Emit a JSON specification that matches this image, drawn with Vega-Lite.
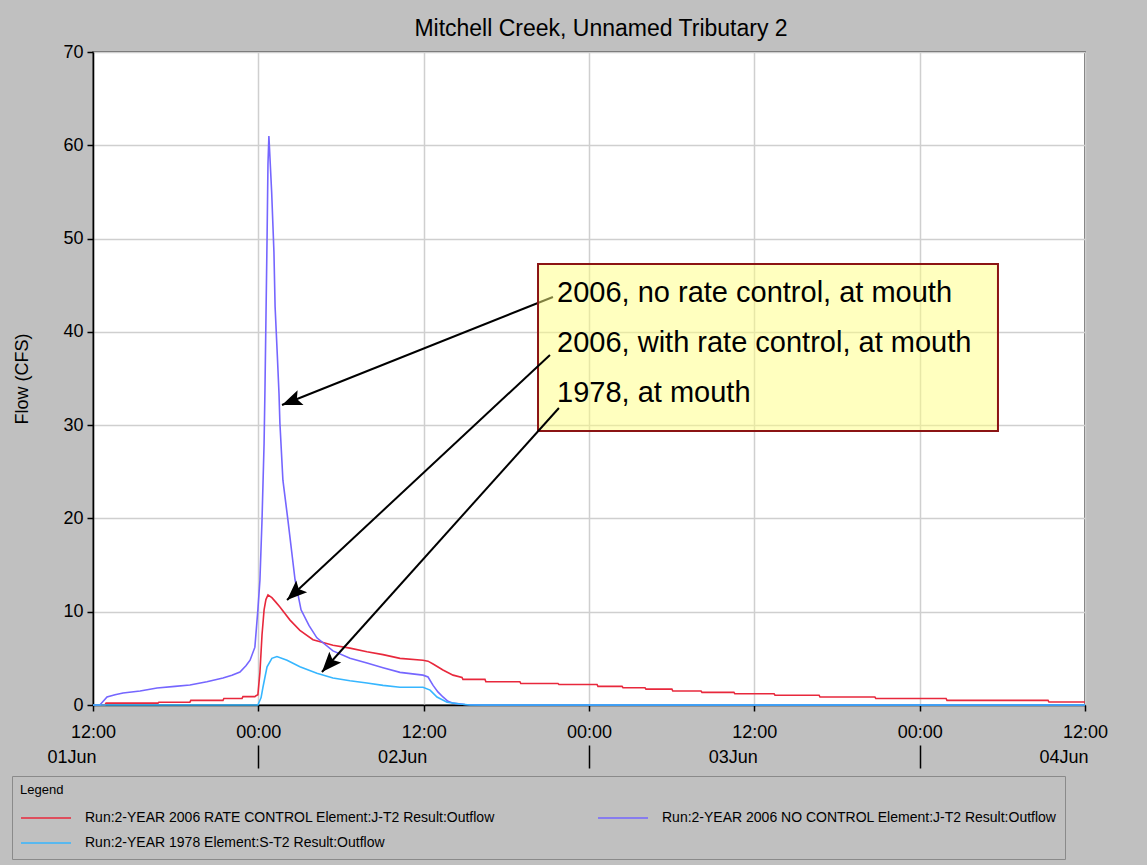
{
  "$schema": "https://vega.github.io/schema/vega-lite/v6.json",
  "width": 992,
  "height": 653,
  "autosize": {"type": "none"},
  "padding": {"left": 93, "top": 52, "right": 62, "bottom": 160},
  "background": "#c0c0c0",
  "config": {
    "font": "Liberation Sans",
    "view": {"fill": "#ffffff", "stroke": "#404040", "strokeWidth": 1.5},
    "axis": {
      "labelFont": "Liberation Sans",
      "labelColor": "#000000",
      "titleFont": "Liberation Sans",
      "titleColor": "#000000",
      "titleFontWeight": "normal",
      "domainColor": "#000000",
      "tickColor": "#000000",
      "gridColor": "#cfcfcf",
      "gridWidth": 1.5
    }
  },
  "title": {
    "text": "Mitchell Creek, Unnamed Tributary 2",
    "font": "Liberation Sans",
    "fontSize": 23,
    "fontWeight": "normal",
    "color": "#000000",
    "anchor": "middle",
    "offset": 2,
    "dx": 12
  },
  "datasets": {
    "series": [
      {"s": "Run:2-YEAR 2006 RATE CONTROL Element:J-T2 Result:Outflow", "t": "2006-06-01T12:00", "v": 0},
      {"s": "Run:2-YEAR 2006 RATE CONTROL Element:J-T2 Result:Outflow", "t": "2006-06-01T12:52", "v": 0},
      {"s": "Run:2-YEAR 2006 RATE CONTROL Element:J-T2 Result:Outflow", "t": "2006-06-01T12:57", "v": 0.2},
      {"s": "Run:2-YEAR 2006 RATE CONTROL Element:J-T2 Result:Outflow", "t": "2006-06-01T16:43", "v": 0.2},
      {"s": "Run:2-YEAR 2006 RATE CONTROL Element:J-T2 Result:Outflow", "t": "2006-06-01T16:47", "v": 0.3},
      {"s": "Run:2-YEAR 2006 RATE CONTROL Element:J-T2 Result:Outflow", "t": "2006-06-01T19:02", "v": 0.3},
      {"s": "Run:2-YEAR 2006 RATE CONTROL Element:J-T2 Result:Outflow", "t": "2006-06-01T19:06", "v": 0.5},
      {"s": "Run:2-YEAR 2006 RATE CONTROL Element:J-T2 Result:Outflow", "t": "2006-06-01T21:26", "v": 0.5},
      {"s": "Run:2-YEAR 2006 RATE CONTROL Element:J-T2 Result:Outflow", "t": "2006-06-01T21:30", "v": 0.7},
      {"s": "Run:2-YEAR 2006 RATE CONTROL Element:J-T2 Result:Outflow", "t": "2006-06-01T22:49", "v": 0.7},
      {"s": "Run:2-YEAR 2006 RATE CONTROL Element:J-T2 Result:Outflow", "t": "2006-06-01T22:53", "v": 0.9},
      {"s": "Run:2-YEAR 2006 RATE CONTROL Element:J-T2 Result:Outflow", "t": "2006-06-01T23:45", "v": 0.9},
      {"s": "Run:2-YEAR 2006 RATE CONTROL Element:J-T2 Result:Outflow", "t": "2006-06-01T23:50", "v": 1.0},
      {"s": "Run:2-YEAR 2006 RATE CONTROL Element:J-T2 Result:Outflow", "t": "2006-06-01T23:58", "v": 1.1},
      {"s": "Run:2-YEAR 2006 RATE CONTROL Element:J-T2 Result:Outflow", "t": "2006-06-02T00:07", "v": 3.5},
      {"s": "Run:2-YEAR 2006 RATE CONTROL Element:J-T2 Result:Outflow", "t": "2006-06-02T00:16", "v": 7.5},
      {"s": "Run:2-YEAR 2006 RATE CONTROL Element:J-T2 Result:Outflow", "t": "2006-06-02T00:25", "v": 10.2},
      {"s": "Run:2-YEAR 2006 RATE CONTROL Element:J-T2 Result:Outflow", "t": "2006-06-02T00:33", "v": 11.3},
      {"s": "Run:2-YEAR 2006 RATE CONTROL Element:J-T2 Result:Outflow", "t": "2006-06-02T00:42", "v": 11.8},
      {"s": "Run:2-YEAR 2006 RATE CONTROL Element:J-T2 Result:Outflow", "t": "2006-06-02T00:59", "v": 11.5},
      {"s": "Run:2-YEAR 2006 RATE CONTROL Element:J-T2 Result:Outflow", "t": "2006-06-02T01:17", "v": 11.0},
      {"s": "Run:2-YEAR 2006 RATE CONTROL Element:J-T2 Result:Outflow", "t": "2006-06-02T01:34", "v": 10.5},
      {"s": "Run:2-YEAR 2006 RATE CONTROL Element:J-T2 Result:Outflow", "t": "2006-06-02T02:18", "v": 9.1},
      {"s": "Run:2-YEAR 2006 RATE CONTROL Element:J-T2 Result:Outflow", "t": "2006-06-02T03:01", "v": 8.0},
      {"s": "Run:2-YEAR 2006 RATE CONTROL Element:J-T2 Result:Outflow", "t": "2006-06-02T03:58", "v": 7.0},
      {"s": "Run:2-YEAR 2006 RATE CONTROL Element:J-T2 Result:Outflow", "t": "2006-06-02T05:25", "v": 6.4},
      {"s": "Run:2-YEAR 2006 RATE CONTROL Element:J-T2 Result:Outflow", "t": "2006-06-02T06:39", "v": 6.1},
      {"s": "Run:2-YEAR 2006 RATE CONTROL Element:J-T2 Result:Outflow", "t": "2006-06-02T07:53", "v": 5.7},
      {"s": "Run:2-YEAR 2006 RATE CONTROL Element:J-T2 Result:Outflow", "t": "2006-06-02T09:03", "v": 5.4},
      {"s": "Run:2-YEAR 2006 RATE CONTROL Element:J-T2 Result:Outflow", "t": "2006-06-02T10:17", "v": 5.0},
      {"s": "Run:2-YEAR 2006 RATE CONTROL Element:J-T2 Result:Outflow", "t": "2006-06-02T11:57", "v": 4.8},
      {"s": "Run:2-YEAR 2006 RATE CONTROL Element:J-T2 Result:Outflow", "t": "2006-06-02T12:19", "v": 4.7},
      {"s": "Run:2-YEAR 2006 RATE CONTROL Element:J-T2 Result:Outflow", "t": "2006-06-02T12:41", "v": 4.4},
      {"s": "Run:2-YEAR 2006 RATE CONTROL Element:J-T2 Result:Outflow", "t": "2006-06-02T13:24", "v": 3.75},
      {"s": "Run:2-YEAR 2006 RATE CONTROL Element:J-T2 Result:Outflow", "t": "2006-06-02T14:08", "v": 3.2},
      {"s": "Run:2-YEAR 2006 RATE CONTROL Element:J-T2 Result:Outflow", "t": "2006-06-02T14:47", "v": 2.95},
      {"s": "Run:2-YEAR 2006 RATE CONTROL Element:J-T2 Result:Outflow", "t": "2006-06-02T14:51", "v": 2.75},
      {"s": "Run:2-YEAR 2006 RATE CONTROL Element:J-T2 Result:Outflow", "t": "2006-06-02T16:27", "v": 2.75},
      {"s": "Run:2-YEAR 2006 RATE CONTROL Element:J-T2 Result:Outflow", "t": "2006-06-02T16:31", "v": 2.5},
      {"s": "Run:2-YEAR 2006 RATE CONTROL Element:J-T2 Result:Outflow", "t": "2006-06-02T18:59", "v": 2.5},
      {"s": "Run:2-YEAR 2006 RATE CONTROL Element:J-T2 Result:Outflow", "t": "2006-06-02T19:03", "v": 2.3},
      {"s": "Run:2-YEAR 2006 RATE CONTROL Element:J-T2 Result:Outflow", "t": "2006-06-02T21:45", "v": 2.3},
      {"s": "Run:2-YEAR 2006 RATE CONTROL Element:J-T2 Result:Outflow", "t": "2006-06-02T21:49", "v": 2.2},
      {"s": "Run:2-YEAR 2006 RATE CONTROL Element:J-T2 Result:Outflow", "t": "2006-06-03T00:35", "v": 2.2},
      {"s": "Run:2-YEAR 2006 RATE CONTROL Element:J-T2 Result:Outflow", "t": "2006-06-03T00:39", "v": 2.0},
      {"s": "Run:2-YEAR 2006 RATE CONTROL Element:J-T2 Result:Outflow", "t": "2006-06-03T02:24", "v": 2.0},
      {"s": "Run:2-YEAR 2006 RATE CONTROL Element:J-T2 Result:Outflow", "t": "2006-06-03T02:28", "v": 1.85},
      {"s": "Run:2-YEAR 2006 RATE CONTROL Element:J-T2 Result:Outflow", "t": "2006-06-03T04:04", "v": 1.85},
      {"s": "Run:2-YEAR 2006 RATE CONTROL Element:J-T2 Result:Outflow", "t": "2006-06-03T04:08", "v": 1.7},
      {"s": "Run:2-YEAR 2006 RATE CONTROL Element:J-T2 Result:Outflow", "t": "2006-06-03T06:01", "v": 1.7},
      {"s": "Run:2-YEAR 2006 RATE CONTROL Element:J-T2 Result:Outflow", "t": "2006-06-03T06:05", "v": 1.5},
      {"s": "Run:2-YEAR 2006 RATE CONTROL Element:J-T2 Result:Outflow", "t": "2006-06-03T08:08", "v": 1.5},
      {"s": "Run:2-YEAR 2006 RATE CONTROL Element:J-T2 Result:Outflow", "t": "2006-06-03T08:12", "v": 1.35},
      {"s": "Run:2-YEAR 2006 RATE CONTROL Element:J-T2 Result:Outflow", "t": "2006-06-03T10:31", "v": 1.35},
      {"s": "Run:2-YEAR 2006 RATE CONTROL Element:J-T2 Result:Outflow", "t": "2006-06-03T10:35", "v": 1.2},
      {"s": "Run:2-YEAR 2006 RATE CONTROL Element:J-T2 Result:Outflow", "t": "2006-06-03T13:26", "v": 1.2},
      {"s": "Run:2-YEAR 2006 RATE CONTROL Element:J-T2 Result:Outflow", "t": "2006-06-03T13:30", "v": 1.05},
      {"s": "Run:2-YEAR 2006 RATE CONTROL Element:J-T2 Result:Outflow", "t": "2006-06-03T16:42", "v": 1.05},
      {"s": "Run:2-YEAR 2006 RATE CONTROL Element:J-T2 Result:Outflow", "t": "2006-06-03T16:46", "v": 0.85},
      {"s": "Run:2-YEAR 2006 RATE CONTROL Element:J-T2 Result:Outflow", "t": "2006-06-03T20:45", "v": 0.85},
      {"s": "Run:2-YEAR 2006 RATE CONTROL Element:J-T2 Result:Outflow", "t": "2006-06-03T20:49", "v": 0.7},
      {"s": "Run:2-YEAR 2006 RATE CONTROL Element:J-T2 Result:Outflow", "t": "2006-06-04T01:55", "v": 0.7},
      {"s": "Run:2-YEAR 2006 RATE CONTROL Element:J-T2 Result:Outflow", "t": "2006-06-04T01:59", "v": 0.5},
      {"s": "Run:2-YEAR 2006 RATE CONTROL Element:J-T2 Result:Outflow", "t": "2006-06-04T09:19", "v": 0.5},
      {"s": "Run:2-YEAR 2006 RATE CONTROL Element:J-T2 Result:Outflow", "t": "2006-06-04T09:23", "v": 0.32},
      {"s": "Run:2-YEAR 2006 RATE CONTROL Element:J-T2 Result:Outflow", "t": "2006-06-04T12:00", "v": 0.32},

      {"s": "Run:2-YEAR 2006 NO CONTROL Element:J-T2 Result:Outflow", "t": "2006-06-01T12:00", "v": 0},
      {"s": "Run:2-YEAR 2006 NO CONTROL Element:J-T2 Result:Outflow", "t": "2006-06-01T12:30", "v": 0},
      {"s": "Run:2-YEAR 2006 NO CONTROL Element:J-T2 Result:Outflow", "t": "2006-06-01T13:01", "v": 0.86},
      {"s": "Run:2-YEAR 2006 NO CONTROL Element:J-T2 Result:Outflow", "t": "2006-06-01T13:36", "v": 1.1},
      {"s": "Run:2-YEAR 2006 NO CONTROL Element:J-T2 Result:Outflow", "t": "2006-06-01T14:11", "v": 1.29},
      {"s": "Run:2-YEAR 2006 NO CONTROL Element:J-T2 Result:Outflow", "t": "2006-06-01T15:25", "v": 1.5},
      {"s": "Run:2-YEAR 2006 NO CONTROL Element:J-T2 Result:Outflow", "t": "2006-06-01T16:39", "v": 1.82},
      {"s": "Run:2-YEAR 2006 NO CONTROL Element:J-T2 Result:Outflow", "t": "2006-06-01T17:57", "v": 2.0},
      {"s": "Run:2-YEAR 2006 NO CONTROL Element:J-T2 Result:Outflow", "t": "2006-06-01T19:02", "v": 2.14},
      {"s": "Run:2-YEAR 2006 NO CONTROL Element:J-T2 Result:Outflow", "t": "2006-06-01T20:16", "v": 2.5},
      {"s": "Run:2-YEAR 2006 NO CONTROL Element:J-T2 Result:Outflow", "t": "2006-06-01T21:26", "v": 2.89},
      {"s": "Run:2-YEAR 2006 NO CONTROL Element:J-T2 Result:Outflow", "t": "2006-06-01T22:05", "v": 3.2},
      {"s": "Run:2-YEAR 2006 NO CONTROL Element:J-T2 Result:Outflow", "t": "2006-06-01T22:40", "v": 3.54},
      {"s": "Run:2-YEAR 2006 NO CONTROL Element:J-T2 Result:Outflow", "t": "2006-06-01T23:06", "v": 4.2},
      {"s": "Run:2-YEAR 2006 NO CONTROL Element:J-T2 Result:Outflow", "t": "2006-06-01T23:24", "v": 4.8},
      {"s": "Run:2-YEAR 2006 NO CONTROL Element:J-T2 Result:Outflow", "t": "2006-06-01T23:45", "v": 6.2},
      {"s": "Run:2-YEAR 2006 NO CONTROL Element:J-T2 Result:Outflow", "t": "2006-06-01T23:58", "v": 10.2},
      {"s": "Run:2-YEAR 2006 NO CONTROL Element:J-T2 Result:Outflow", "t": "2006-06-02T00:07", "v": 13.4},
      {"s": "Run:2-YEAR 2006 NO CONTROL Element:J-T2 Result:Outflow", "t": "2006-06-02T00:16", "v": 19.8},
      {"s": "Run:2-YEAR 2006 NO CONTROL Element:J-T2 Result:Outflow", "t": "2006-06-02T00:25", "v": 28},
      {"s": "Run:2-YEAR 2006 NO CONTROL Element:J-T2 Result:Outflow", "t": "2006-06-02T00:29", "v": 34},
      {"s": "Run:2-YEAR 2006 NO CONTROL Element:J-T2 Result:Outflow", "t": "2006-06-02T00:38", "v": 50},
      {"s": "Run:2-YEAR 2006 NO CONTROL Element:J-T2 Result:Outflow", "t": "2006-06-02T00:42", "v": 58},
      {"s": "Run:2-YEAR 2006 NO CONTROL Element:J-T2 Result:Outflow", "t": "2006-06-02T00:46", "v": 61},
      {"s": "Run:2-YEAR 2006 NO CONTROL Element:J-T2 Result:Outflow", "t": "2006-06-02T00:58", "v": 55},
      {"s": "Run:2-YEAR 2006 NO CONTROL Element:J-T2 Result:Outflow", "t": "2006-06-02T01:08", "v": 48.5},
      {"s": "Run:2-YEAR 2006 NO CONTROL Element:J-T2 Result:Outflow", "t": "2006-06-02T01:13", "v": 42.7},
      {"s": "Run:2-YEAR 2006 NO CONTROL Element:J-T2 Result:Outflow", "t": "2006-06-02T01:23", "v": 37.3},
      {"s": "Run:2-YEAR 2006 NO CONTROL Element:J-T2 Result:Outflow", "t": "2006-06-02T01:30", "v": 33.4},
      {"s": "Run:2-YEAR 2006 NO CONTROL Element:J-T2 Result:Outflow", "t": "2006-06-02T01:34", "v": 30.2},
      {"s": "Run:2-YEAR 2006 NO CONTROL Element:J-T2 Result:Outflow", "t": "2006-06-02T01:47", "v": 24.1},
      {"s": "Run:2-YEAR 2006 NO CONTROL Element:J-T2 Result:Outflow", "t": "2006-06-02T02:09", "v": 19.8},
      {"s": "Run:2-YEAR 2006 NO CONTROL Element:J-T2 Result:Outflow", "t": "2006-06-02T02:40", "v": 13.4},
      {"s": "Run:2-YEAR 2006 NO CONTROL Element:J-T2 Result:Outflow", "t": "2006-06-02T03:06", "v": 10.2},
      {"s": "Run:2-YEAR 2006 NO CONTROL Element:J-T2 Result:Outflow", "t": "2006-06-02T03:41", "v": 8.5},
      {"s": "Run:2-YEAR 2006 NO CONTROL Element:J-T2 Result:Outflow", "t": "2006-06-02T04:15", "v": 7.2},
      {"s": "Run:2-YEAR 2006 NO CONTROL Element:J-T2 Result:Outflow", "t": "2006-06-02T05:25", "v": 5.8},
      {"s": "Run:2-YEAR 2006 NO CONTROL Element:J-T2 Result:Outflow", "t": "2006-06-02T06:39", "v": 5.0},
      {"s": "Run:2-YEAR 2006 NO CONTROL Element:J-T2 Result:Outflow", "t": "2006-06-02T07:53", "v": 4.5},
      {"s": "Run:2-YEAR 2006 NO CONTROL Element:J-T2 Result:Outflow", "t": "2006-06-02T09:03", "v": 4.0},
      {"s": "Run:2-YEAR 2006 NO CONTROL Element:J-T2 Result:Outflow", "t": "2006-06-02T10:17", "v": 3.5},
      {"s": "Run:2-YEAR 2006 NO CONTROL Element:J-T2 Result:Outflow", "t": "2006-06-02T11:57", "v": 3.2},
      {"s": "Run:2-YEAR 2006 NO CONTROL Element:J-T2 Result:Outflow", "t": "2006-06-02T12:19", "v": 3.0},
      {"s": "Run:2-YEAR 2006 NO CONTROL Element:J-T2 Result:Outflow", "t": "2006-06-02T12:41", "v": 2.1},
      {"s": "Run:2-YEAR 2006 NO CONTROL Element:J-T2 Result:Outflow", "t": "2006-06-02T13:02", "v": 1.4},
      {"s": "Run:2-YEAR 2006 NO CONTROL Element:J-T2 Result:Outflow", "t": "2006-06-02T13:24", "v": 0.86},
      {"s": "Run:2-YEAR 2006 NO CONTROL Element:J-T2 Result:Outflow", "t": "2006-06-02T13:46", "v": 0.4},
      {"s": "Run:2-YEAR 2006 NO CONTROL Element:J-T2 Result:Outflow", "t": "2006-06-02T14:08", "v": 0.2},
      {"s": "Run:2-YEAR 2006 NO CONTROL Element:J-T2 Result:Outflow", "t": "2006-06-02T15:00", "v": 0.05},
      {"s": "Run:2-YEAR 2006 NO CONTROL Element:J-T2 Result:Outflow", "t": "2006-06-02T16:18", "v": 0},
      {"s": "Run:2-YEAR 2006 NO CONTROL Element:J-T2 Result:Outflow", "t": "2006-06-04T12:00", "v": 0},

      {"s": "Run:2-YEAR 1978 Element:S-T2 Result:Outflow", "t": "2006-06-01T12:00", "v": 0},
      {"s": "Run:2-YEAR 1978 Element:S-T2 Result:Outflow", "t": "2006-06-01T23:58", "v": 0},
      {"s": "Run:2-YEAR 1978 Element:S-T2 Result:Outflow", "t": "2006-06-02T00:12", "v": 0.8},
      {"s": "Run:2-YEAR 1978 Element:S-T2 Result:Outflow", "t": "2006-06-02T00:20", "v": 1.9},
      {"s": "Run:2-YEAR 1978 Element:S-T2 Result:Outflow", "t": "2006-06-02T00:29", "v": 3.0},
      {"s": "Run:2-YEAR 1978 Element:S-T2 Result:Outflow", "t": "2006-06-02T00:38", "v": 4.1},
      {"s": "Run:2-YEAR 1978 Element:S-T2 Result:Outflow", "t": "2006-06-02T00:59", "v": 5.0},
      {"s": "Run:2-YEAR 1978 Element:S-T2 Result:Outflow", "t": "2006-06-02T01:21", "v": 5.2},
      {"s": "Run:2-YEAR 1978 Element:S-T2 Result:Outflow", "t": "2006-06-02T02:05", "v": 4.8},
      {"s": "Run:2-YEAR 1978 Element:S-T2 Result:Outflow", "t": "2006-06-02T03:01", "v": 4.1},
      {"s": "Run:2-YEAR 1978 Element:S-T2 Result:Outflow", "t": "2006-06-02T04:15", "v": 3.4},
      {"s": "Run:2-YEAR 1978 Element:S-T2 Result:Outflow", "t": "2006-06-02T05:25", "v": 2.9},
      {"s": "Run:2-YEAR 1978 Element:S-T2 Result:Outflow", "t": "2006-06-02T06:39", "v": 2.6},
      {"s": "Run:2-YEAR 1978 Element:S-T2 Result:Outflow", "t": "2006-06-02T07:53", "v": 2.35},
      {"s": "Run:2-YEAR 1978 Element:S-T2 Result:Outflow", "t": "2006-06-02T09:03", "v": 2.1},
      {"s": "Run:2-YEAR 1978 Element:S-T2 Result:Outflow", "t": "2006-06-02T10:17", "v": 1.9},
      {"s": "Run:2-YEAR 1978 Element:S-T2 Result:Outflow", "t": "2006-06-02T11:57", "v": 1.9},
      {"s": "Run:2-YEAR 1978 Element:S-T2 Result:Outflow", "t": "2006-06-02T12:28", "v": 1.6},
      {"s": "Run:2-YEAR 1978 Element:S-T2 Result:Outflow", "t": "2006-06-02T12:58", "v": 0.86},
      {"s": "Run:2-YEAR 1978 Element:S-T2 Result:Outflow", "t": "2006-06-02T13:42", "v": 0.3},
      {"s": "Run:2-YEAR 1978 Element:S-T2 Result:Outflow", "t": "2006-06-02T14:38", "v": 0.1},
      {"s": "Run:2-YEAR 1978 Element:S-T2 Result:Outflow", "t": "2006-06-02T15:22", "v": 0},
      {"s": "Run:2-YEAR 1978 Element:S-T2 Result:Outflow", "t": "2006-06-04T12:00", "v": 0}
    ],
    "box": [
      {"t": "2006-06-02T20:18", "t2": "2006-06-04T05:41", "v": 47.27, "v2": 29.37}
    ],
    "labels": [
      {"t": "2006-06-02T21:41", "v": 43.23, "label": "2006, no rate control, at mouth"},
      {"t": "2006-06-02T21:41", "v": 37.87, "label": "2006, with rate control, at mouth"},
      {"t": "2006-06-02T21:41", "v": 32.51, "label": "1978, at mouth"}
    ],
    "arrows": [
      {"id": "a", "t": "2006-06-02T21:23", "v": 43.74, "t2": "2006-06-02T01:43", "v2": 32.16},
      {"id": "b", "t": "2006-06-02T21:10", "v": 37.52, "t2": "2006-06-02T02:05", "v2": 11.26},
      {"id": "c", "t": "2006-06-02T21:49", "v": 31.84, "t2": "2006-06-02T04:37", "v2": 3.54}
    ]
  },
  "resolve": {"axis": {"x": "independent", "y": "independent"}},
  "layer": [
    {
      "data": {"name": "series"},
      "mark": {"type": "line", "strokeWidth": 1.6, "interpolate": "linear"},
      "encoding": {
        "x": {
          "field": "t", "type": "temporal",
          "scale": {"domain": [{"year": 2006, "month": 6, "date": 1, "hours": 12}, {"year": 2006, "month": 6, "date": 4, "hours": 12}], "nice": false},
          "axis": {
            "orient": "bottom",
            "title": null,
            "values": [
              {"year": 2006, "month": 6, "date": 1, "hours": 12},
              {"year": 2006, "month": 6, "date": 2, "hours": 0},
              {"year": 2006, "month": 6, "date": 2, "hours": 12},
              {"year": 2006, "month": 6, "date": 3, "hours": 0},
              {"year": 2006, "month": 6, "date": 3, "hours": 12},
              {"year": 2006, "month": 6, "date": 4, "hours": 0},
              {"year": 2006, "month": 6, "date": 4, "hours": 12}
            ],
            "format": "%H:%M",
            "labelFontSize": 18,
            "labelFlush": false,
            "labelOverlap": false,
            "tickSize": 6,
            "tickWidth": 1.5,
            "domainWidth": 1.5,
            "labelPadding": 12,
            "grid": true
          }
        },
        "y": {
          "field": "v", "type": "quantitative",
          "scale": {"domain": [0, 70], "nice": false, "zero": true},
          "axis": {
            "orient": "left",
            "title": "Flow (CFS)",
            "titleFontSize": 18,
            "titlePadding": 31,
            "values": [0, 10, 20, 30, 40, 50, 60, 70],
            "labelFontSize": 18,
            "labelFlush": false,
            "labelOverlap": false,
            "tickSize": 6,
            "tickWidth": 1.5,
            "domainWidth": 1.5,
            "labelPadding": 4,
            "grid": true
          }
        },
        "color": {
          "field": "s", "type": "nominal",
          "scale": {
            "domain": [
              "Run:2-YEAR 2006 RATE CONTROL Element:J-T2 Result:Outflow",
              "Run:2-YEAR 2006 NO CONTROL Element:J-T2 Result:Outflow",
              "Run:2-YEAR 1978 Element:S-T2 Result:Outflow"
            ],
            "range": ["#e8283c", "#7566ff", "#36b6ff"]
          },
          "legend": {
            "title": "Legend",
            "orient": "none",
            "legendX": -81,
            "legendY": 724,
            "direction": "horizontal",
            "columns": 2,
            "columnPadding": 102,
            "rowPadding": 9,
            "clipHeight": 16,
            "padding": 8,
            "strokeColor": "#8a8a8a",
            "symbolType": "stroke",
            "symbolSize": 2500,
            "symbolStrokeWidth": 1.5,
            "labelFont": "Liberation Sans",
            "labelFontSize": 14,
            "labelColor": "#000000",
            "labelOffset": 13,
            "labelLimit": 700,
            "titleFont": "Liberation Sans",
            "titleFontSize": 13,
            "titleFontWeight": "normal",
            "titleColor": "#000000",
            "titlePadding": 13
          }
        }
      }
    },
    {
      "data": {"name": "arrows"},
      "transform": [{"filter": "datum.id === 'a'"}],
      "mark": {"type": "rule", "color": "#000000", "strokeWidth": 2},
      "encoding": {
        "x": {"field": "t", "type": "temporal", "scale": {"domain": [{"year": 2006, "month": 6, "date": 1, "hours": 12}, {"year": 2006, "month": 6, "date": 4, "hours": 12}], "nice": false}, "axis": null},
        "x2": {"field": "t2"},
        "y": {"field": "v", "type": "quantitative", "scale": {"domain": [0, 70], "nice": false}, "axis": null},
        "y2": {"field": "v2"}
      }
    },
    {
      "data": {"name": "box"},
      "mark": {"type": "rect", "fill": "#ffff80", "fillOpacity": 0.5, "stroke": "#8b1414", "strokeWidth": 2},
      "encoding": {
        "x": {
          "field": "t", "type": "temporal",
          "scale": {"domain": [{"year": 2006, "month": 6, "date": 1, "hours": 12}, {"year": 2006, "month": 6, "date": 4, "hours": 12}], "nice": false},
          "axis": {
            "orient": "bottom",
            "title": null,
            "offset": 40,
            "domain": false,
            "ticks": false,
            "tickSize": 0,
            "grid": false,
            "values": [
              {"year": 2006, "month": 6, "date": 1, "hours": 12},
              {"year": 2006, "month": 6, "date": 2, "hours": 12},
              {"year": 2006, "month": 6, "date": 3, "hours": 12},
              {"year": 2006, "month": 6, "date": 4, "hours": 12}
            ],
            "labelExpr": "timeFormat(datum.value, '%d') + 'Jun'",
            "labelAlign": "right",
            "labelOffset": 3,
            "labelFontSize": 18,
            "labelFlush": false,
            "labelOverlap": false,
            "labelPadding": 3
          }
        },
        "x2": {"field": "t2"},
        "y": {"field": "v", "type": "quantitative", "scale": {"domain": [0, 70], "nice": false}, "axis": null},
        "y2": {"field": "v2"}
      }
    },
    {
      "data": {"name": "arrows"},
      "transform": [{"filter": "datum.id !== 'a'"}],
      "mark": {"type": "rule", "color": "#000000", "strokeWidth": 2},
      "encoding": {
        "x": {"field": "t", "type": "temporal", "scale": {"domain": [{"year": 2006, "month": 6, "date": 1, "hours": 12}, {"year": 2006, "month": 6, "date": 4, "hours": 12}], "nice": false}, "axis": null},
        "x2": {"field": "t2"},
        "y": {"field": "v", "type": "quantitative", "scale": {"domain": [0, 70], "nice": false}, "axis": null},
        "y2": {"field": "v2"}
      }
    },
    {
      "data": {"name": "labels"},
      "mark": {"type": "text", "align": "left", "baseline": "alphabetic", "font": "Liberation Sans", "fontSize": 29, "color": "#000000"},
      "encoding": {
        "x": {
          "field": "t", "type": "temporal",
          "scale": {"domain": [{"year": 2006, "month": 6, "date": 1, "hours": 12}, {"year": 2006, "month": 6, "date": 4, "hours": 12}], "nice": false},
          "axis": {
            "orient": "bottom",
            "title": null,
            "offset": 40,
            "domain": false,
            "labels": false,
            "grid": false,
            "ticks": true,
            "tickSize": 23,
            "tickWidth": 1.5,
            "tickColor": "#000000",
            "values": [
              {"year": 2006, "month": 6, "date": 2, "hours": 0},
              {"year": 2006, "month": 6, "date": 3, "hours": 0},
              {"year": 2006, "month": 6, "date": 4, "hours": 0}
            ]
          }
        },
        "y": {"field": "v", "type": "quantitative", "scale": {"domain": [0, 70], "nice": false}, "axis": null},
        "text": {"field": "label", "type": "nominal"}
      }
    },
    {
      "data": {"name": "arrows"},
      "transform": [{"filter": "datum.id === 'a'"}],
      "mark": {"type": "point", "shape": "M0,0L-0.4,1L0,0.8L0.4,1Z", "filled": true, "color": "#000000", "opacity": 1, "size": 1600, "angle": 248.3},
      "encoding": {
        "x": {"field": "t2", "type": "temporal", "scale": {"domain": [{"year": 2006, "month": 6, "date": 1, "hours": 12}, {"year": 2006, "month": 6, "date": 4, "hours": 12}], "nice": false}, "axis": null},
        "y": {"field": "v2", "type": "quantitative", "scale": {"domain": [0, 70], "nice": false}, "axis": null}
      }
    },
    {
      "data": {"name": "arrows"},
      "transform": [{"filter": "datum.id === 'b'"}],
      "mark": {"type": "point", "shape": "M0,0L-0.4,1L0,0.8L0.4,1Z", "filled": true, "color": "#000000", "opacity": 1, "size": 1600, "angle": 227.1},
      "encoding": {
        "x": {"field": "t2", "type": "temporal", "scale": {"domain": [{"year": 2006, "month": 6, "date": 1, "hours": 12}, {"year": 2006, "month": 6, "date": 4, "hours": 12}], "nice": false}, "axis": null},
        "y": {"field": "v2", "type": "quantitative", "scale": {"domain": [0, 70], "nice": false}, "axis": null}
      }
    },
    {
      "data": {"name": "arrows"},
      "transform": [{"filter": "datum.id === 'c'"}],
      "mark": {"type": "point", "shape": "M0,0L-0.4,1L0,0.8L0.4,1Z", "filled": true, "color": "#000000", "opacity": 1, "size": 1600, "angle": 221.9},
      "encoding": {
        "x": {"field": "t2", "type": "temporal", "scale": {"domain": [{"year": 2006, "month": 6, "date": 1, "hours": 12}, {"year": 2006, "month": 6, "date": 4, "hours": 12}], "nice": false}, "axis": null},
        "y": {"field": "v2", "type": "quantitative", "scale": {"domain": [0, 70], "nice": false}, "axis": null}
      }
    }
  ]
}
